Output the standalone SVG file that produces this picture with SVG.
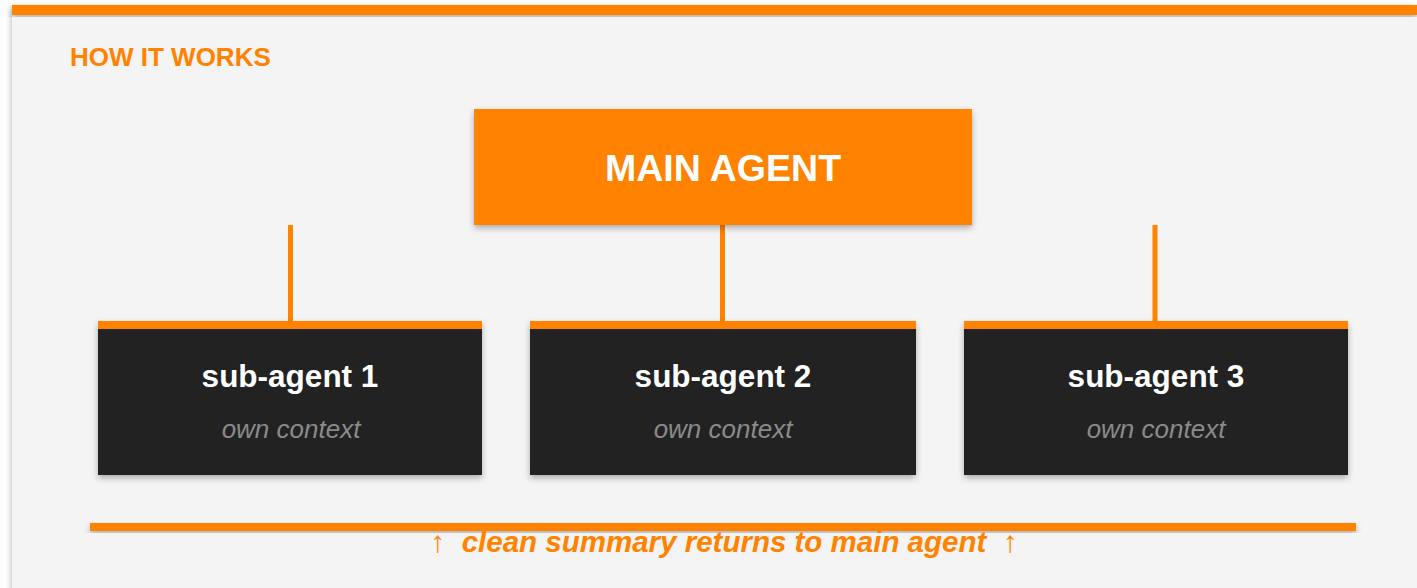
<svg xmlns="http://www.w3.org/2000/svg" width="1417" height="588" viewBox="0 0 1417 588">
<defs>
<filter id="sh" x="-10%" y="-10%" width="120%" height="130%">
<feDropShadow dx="0" dy="3" stdDeviation="3" flood-color="#000" flood-opacity="0.3"/>
</filter>
<style>
.f{font-family:"Liberation Sans",Arial,sans-serif}
.title{font-size:26px;font-weight:bold;fill:#ff8200}
.main{font-size:37.5px;font-weight:bold;fill:#fff}
.sub{font-size:31.5px;font-weight:bold;fill:#fff}
.ctx{font-size:26px;font-style:italic;fill:#8a8a8a}
.conn{stroke:#ff8200;stroke-width:5}
.foot{font-size:29.5px;font-weight:bold;font-style:italic;fill:#ff8200}
.arr{font-weight:normal;font-style:normal;font-size:30px}
</style>
</defs>
<rect x="0" y="0" width="1417" height="588" fill="#fdfdfd"/>
<rect x="12" y="5" width="1405" height="590" fill="#f4f4f4" filter="url(#sh)"/>
<rect x="12" y="5" width="1405" height="10" fill="#ff8200" filter="url(#sh)"/>
<text class="f title" x="70" y="66">HOW IT WORKS</text>
<g id="connectors">
<line class="conn" x1="290.5" y1="225" x2="290.5" y2="322"/>
<line class="conn" x1="722.5" y1="225" x2="722.5" y2="322"/>
<line class="conn" x1="1155" y1="225" x2="1155" y2="322"/>
</g>
<g id="main-agent">
<rect x="474" y="109" width="498" height="116" fill="#ff8200" filter="url(#sh)"/>
<text class="f main" x="723" y="181" text-anchor="middle">MAIN AGENT</text>
</g>
<g id="sub-agent-1">
<rect x="98" y="321" width="384" height="154" fill="#232323" filter="url(#sh)"/>
<rect x="98" y="321" width="384" height="8" fill="#ff8200"/>
<text class="f sub" x="290" y="387" text-anchor="middle">sub-agent 1</text>
<text class="f ctx" x="291" y="438" text-anchor="middle">own context</text>
</g>
<g id="sub-agent-2">
<rect x="530" y="321" width="386" height="154" fill="#232323" filter="url(#sh)"/>
<rect x="530" y="321" width="386" height="8" fill="#ff8200"/>
<text class="f sub" x="723" y="387" text-anchor="middle">sub-agent 2</text>
<text class="f ctx" x="723" y="438" text-anchor="middle">own context</text>
</g>
<g id="sub-agent-3">
<rect x="964" y="321" width="384" height="154" fill="#232323" filter="url(#sh)"/>
<rect x="964" y="321" width="384" height="8" fill="#ff8200"/>
<text class="f sub" x="1156" y="387" text-anchor="middle">sub-agent 3</text>
<text class="f ctx" x="1156" y="438" text-anchor="middle">own context</text>
</g>
<rect x="90" y="523" width="1266" height="8" fill="#ff8200" filter="url(#sh)"/>
<text class="f foot" x="724" y="552" text-anchor="middle" xml:space="preserve"><tspan class="arr">↑</tspan>  clean summary returns to main agent  <tspan class="arr">↑</tspan></text>
</svg>
